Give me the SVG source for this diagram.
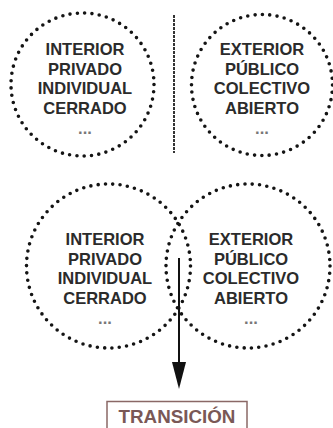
<svg xmlns="http://www.w3.org/2000/svg" width="333" height="428" viewBox="0 0 333 428">
<style>
.ring{fill:none;stroke:#141414;stroke-width:3.6;stroke-linecap:round}
.lbl{font-family:"Liberation Sans",Arial,sans-serif;font-weight:bold;font-size:16.5px;fill:#2b2b2b;text-anchor:middle}
.dots{fill:#777}
.tr{font-family:"Liberation Sans",Arial,sans-serif;font-weight:bold;font-size:18.8px;fill:#7a5856;text-anchor:middle}
</style>
<g id="connectors">
<line x1="174" y1="15" x2="174" y2="153" stroke="#333" stroke-width="2" stroke-dasharray="3 1"/>
<line x1="179" y1="258" x2="179" y2="364" stroke="#111" stroke-width="2"/>
<polygon points="172,362 186,362 179,389" fill="#111"/>
</g>
<g id="top-left">
<circle class="ring" cx="82.5" cy="84.5" r="71.5" stroke-dasharray="0 7.36"/>
<text class="lbl" x="85" y="55">INTERIOR</text>
<text class="lbl" x="85" y="74.7">PRIVADO</text>
<text class="lbl" x="85" y="94.3">INDIVIDUAL</text>
<text class="lbl" x="85" y="114">CERRADO</text>
<text class="lbl dots" x="85" y="134" font-size="12">...</text>
</g>
<g id="top-right">
<circle class="ring" cx="262" cy="85" r="70.5" stroke-dasharray="0 7.38"/>
<text class="lbl" x="262" y="55">EXTERIOR</text>
<text class="lbl" x="262" y="74.7">PÚBLICO</text>
<text class="lbl" x="262" y="94.3">COLECTIVO</text>
<text class="lbl" x="262" y="114">ABIERTO</text>
<text class="lbl dots" x="262" y="134" font-size="12">...</text>
</g>
<g id="bottom-left">
<circle class="ring" cx="108.5" cy="266" r="82" stroke-dasharray="0 7.36"/>
<text class="lbl" x="105" y="245">INTERIOR</text>
<text class="lbl" x="105" y="264.7">PRIVADO</text>
<text class="lbl" x="105" y="284.3">INDIVIDUAL</text>
<text class="lbl" x="105" y="304">CERRADO</text>
<text class="lbl dots" x="105" y="324" font-size="12">...</text>
</g>
<g id="bottom-right">
<circle class="ring" cx="248" cy="266" r="82" stroke-dasharray="0 7.36"/>
<text class="lbl" x="251" y="245">EXTERIOR</text>
<text class="lbl" x="251" y="264.7">PÚBLICO</text>
<text class="lbl" x="251" y="284.3">COLECTIVO</text>
<text class="lbl" x="251" y="304">ABIERTO</text>
<text class="lbl dots" x="251" y="324" font-size="12">...</text>
</g>
<g id="transicion">
<rect x="107" y="401.5" width="140" height="40" fill="none" stroke="#8a6866" stroke-width="1.5"/>
<text class="tr" x="177" y="422.5">TRANSICIÓN</text>
</g>
</svg>
